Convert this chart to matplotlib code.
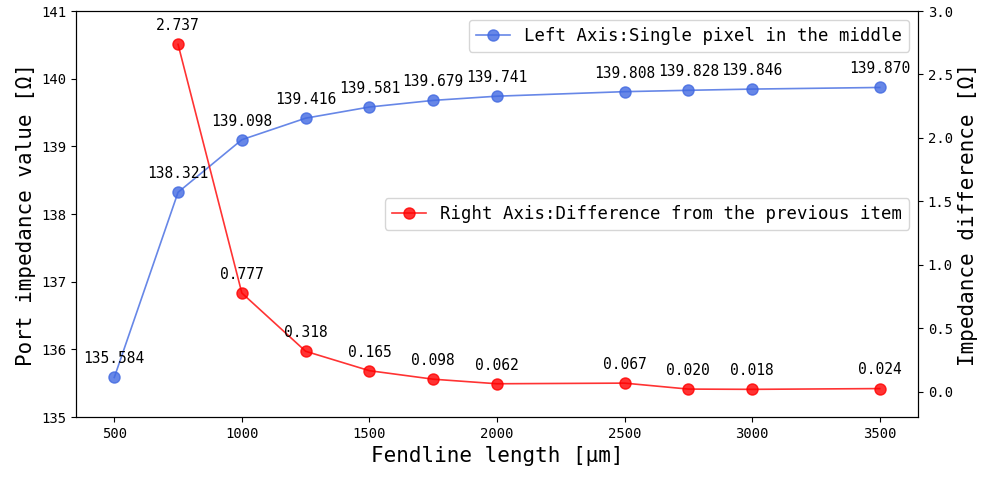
import matplotlib.pyplot as plt

plt.rcParams['font.family'] = ['DejaVu Sans Mono', 'Noto Sans CJK SC']

length = [500, 750, 1000, 1250, 1500, 1750, 2000, 2500, 2750, 3000, 3500]
impedance = [135.584, 138.321, 139.098, 139.416, 139.581, 139.679, 139.741,
             139.808, 139.828, 139.846, 139.870]
diff_length = [750, 1000, 1250, 1500, 1750, 2000, 2500, 2750, 3000, 3500]
diff = [2.737, 0.777, 0.318, 0.165, 0.098, 0.062, 0.067, 0.020, 0.018, 0.024]

fig = plt.figure(figsize=(9.84, 4.79), dpi=100)
ax1 = fig.add_axes([76/984, 1-417/479, (918-76)/984, (417-11)/479])
ax2 = ax1.twinx()

ax1.plot(length, impedance, '-o', color='royalblue', alpha=0.8, markersize=8,
         linewidth=1.2, label='Left Axis:Single pixel in the middle')
for x, y in zip(length, impedance):
    ax1.annotate('%.3f' % y, (x, y), xytext=(0, 8), textcoords='offset points',
                 ha='center', va='bottom', fontsize=10.5)

ax2.plot(diff_length, diff, '-o', color='red', alpha=0.8, markersize=8,
         linewidth=1.2, label='Right Axis:Difference from the previous item')
for x, y in zip(diff_length, diff):
    ax2.annotate('%.3f' % y, (x, y), xytext=(0, 8), textcoords='offset points',
                 ha='center', va='bottom', fontsize=10.5)

ax1.set_xlim(350, 3650)
ax1.set_ylim(135, 141)
ax2.set_ylim(-0.2, 3.0)
ax1.set_xticks([500, 1000, 1500, 2000, 2500, 3000, 3500])
ax1.tick_params(labelsize=10)
ax2.tick_params(labelsize=10)

ax1.set_xlabel('Fendline length [μm]', fontsize=15)
ax1.set_ylabel('Port impedance value [Ω]', fontsize=15)
ax2.set_ylabel('Impedance difference [Ω]', fontsize=15)

ax1.legend(loc='upper right', fontsize=12.5)
ax2.legend(loc='center right', fontsize=12.5)

plt.savefig('out.png', dpi=100)
